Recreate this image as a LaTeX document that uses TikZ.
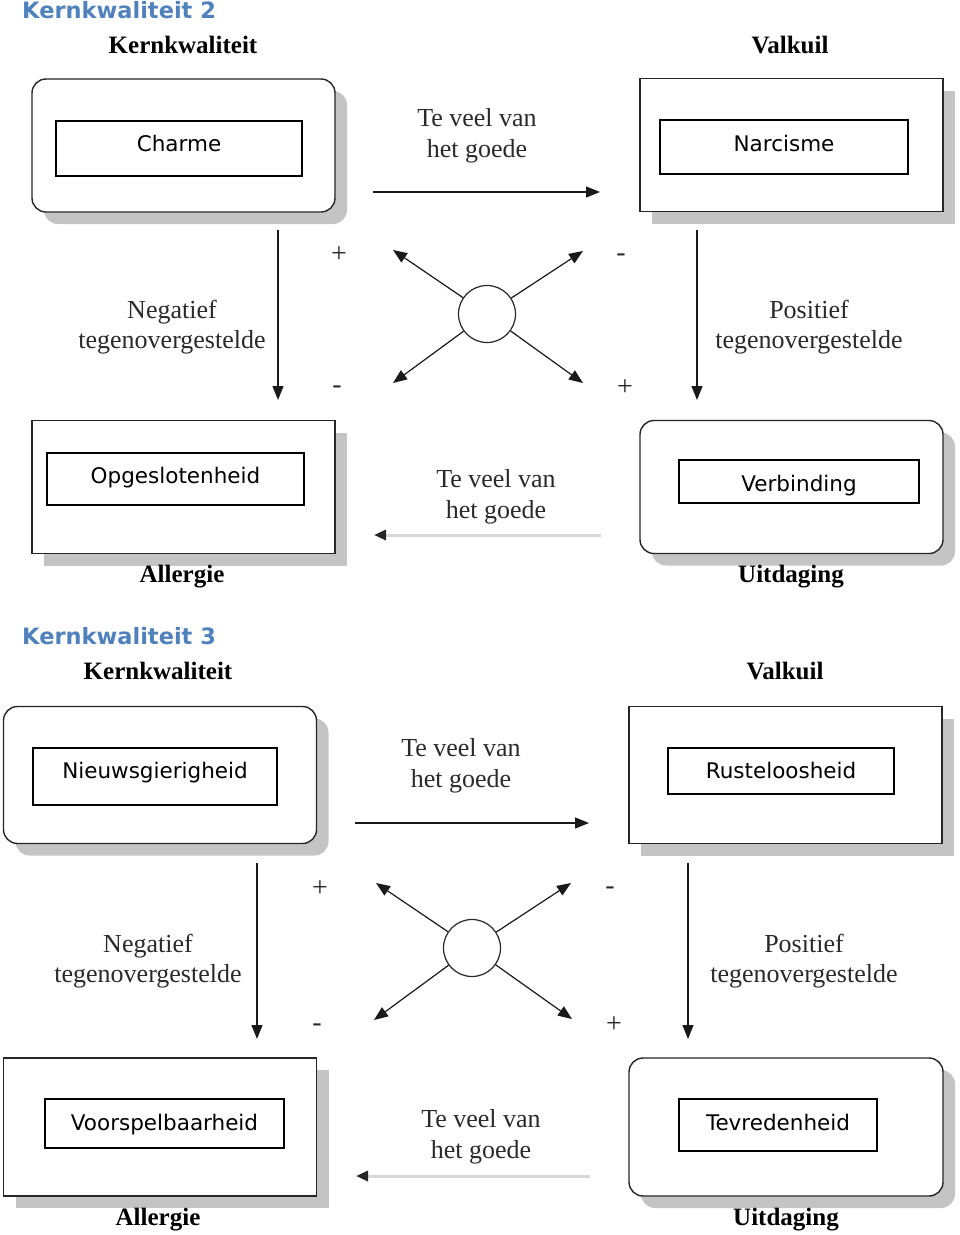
\documentclass[tikz,border=0pt]{standalone}
\usepackage{fontspec}
\setmainfont{Liberation Serif}
\newfontfamily\vsans{DejaVu Sans}
\usetikzlibrary{arrows.meta,shadows}
\definecolor{titleblue}{HTML}{4F81BD}
\definecolor{shadowgray}{HTML}{C4C4C4}
\definecolor{labelgray}{HTML}{2A2A2A}
\definecolor{backline}{HTML}{D8D8D8}
\tikzset{
  maintitle/.style={font=\vsans\bfseries\fontsize{22.5}{26}\selectfont, text=titleblue, anchor=west, inner sep=0},
  header/.style={font=\bfseries\fontsize{25}{29}\selectfont, text=black, inner sep=0},
  lbl/.style={font=\fontsize{26}{30.5}\selectfont, text=labelgray, align=center, inner sep=0},
  sign/.style={font=\fontsize{28}{30}\selectfont, text=labelgray, inner sep=0},
  outerbox/.style={draw=black!85, line width=1.4pt, fill=white, minimum width=303pt, minimum height=133pt, inner sep=0,
     drop shadow={shadow xshift=12pt, shadow yshift=-12pt, fill=shadowgray, opacity=1}},
  roundbox/.style={outerbox, rounded corners=14pt},
  innerbox/.style={draw=black, line width=1.4pt, fill=white, inner sep=0, text height=15.6pt, text depth=0pt,
     font=\vsans\fontsize{21.5}{24}\selectfont},
  up/.style={text depth=#1},
  down/.style={text height=#1},
  hub/.style={circle, draw=black!85, line width=1.2pt, minimum size=57pt, inner sep=0},
  conn/.style={line width=1.2pt, draw=black!90, -{Triangle[length=14pt,width=11pt]}},
  backconn/.style={line width=3pt, draw=backline, -{Triangle[length=12pt,width=10pt,color=black!85]}},
}
\begin{document}
\begin{tikzpicture}[x=1pt,y=-1pt]
\useasboundingbox (0,0) rectangle (960,1235);

% ================= Diagram 1 =================
\node[maintitle] (t1) at (22,10.5) {Kernkwaliteit 2};
\node[header] (h1k) at (183,45) {Kernkwaliteit};
\node[header] (h1v) at (790,45) {Valkuil};

\node[roundbox] (k1) at (183.5,145.5) {};
\node[outerbox] (v1) at (791.5,145) {};
\node[outerbox] (a1) at (183.5,487) {};
\node[roundbox] (u1) at (791.5,487) {};

\node[innerbox, up=10pt, minimum width=246pt, minimum height=55pt] (ik1) at (179,148.5) {Charme};
\node[innerbox, up=7pt, minimum width=248pt, minimum height=54pt] (iv1) at (784,147) {Narcisme};
\node[innerbox, up=6pt, minimum width=257pt, minimum height=52pt] (ia1) at (175.5,479) {Opgeslotenheid};
\node[innerbox, down=20.6pt, minimum width=240pt, minimum height=43pt] (iu1) at (799,481.5) {Verbinding};

\node[header] (f1a) at (182,576.5) {Allergie};
\node[header] (f1u) at (791,576.5) {Uitdaging};

\coordinate (ta1s) at (373,192);
\coordinate (ta1e) at (600,192);
\draw[conn] (ta1s) -- (ta1e);
\node[lbl] (tl1) at (477,136) {Te veel van\\het goede};

\coordinate (ba1s) at (601,535);
\coordinate (ba1e) at (374,535);
\draw[backconn] (ba1s) -- (ba1e);
\node[lbl] (bl1) at (496,497) {Te veel van\\het goede};

\coordinate (vl1s) at (278,230);
\coordinate (vl1e) at (278,400);
\draw[conn] (vl1s) -- (vl1e);
\node[lbl] (nl1) at (172,327) {Negatief\\tegenovergestelde};

\coordinate (vr1s) at (697,230);
\coordinate (vr1e) at (697,400);
\draw[conn] (vr1s) -- (vr1e);
\node[lbl] (pl1) at (809,327) {Positief\\tegenovergestelde};

\node[hub] (c1) at (487,314) {};
\coordinate (c1ul) at (393,250);
\coordinate (c1ur) at (583,251);
\coordinate (c1ll) at (393,383);
\coordinate (c1lr) at (583,383);
\draw[conn] (c1) -- (c1ul);
\draw[conn] (c1) -- (c1ur);
\draw[conn] (c1) -- (c1ll);
\draw[conn] (c1) -- (c1lr);

\node[sign] (s1a) at (339,255) {+};
\node[sign] (s1b) at (621,258) {-};
\node[sign] (s1c) at (337,390) {-};
\node[sign] (s1d) at (625,388) {+};

% ================= Diagram 2 =================
\node[maintitle] (t2) at (22,636.5) {Kernkwaliteit 3};
\node[header] (h2k) at (158,671) {Kernkwaliteit};
\node[header] (h2v) at (785,671) {Valkuil};

\node[roundbox, minimum width=313pt, minimum height=137pt] (k2) at (160,775) {};
\node[outerbox, minimum width=313pt, minimum height=137pt] (v2) at (785.5,775) {};
\node[outerbox, minimum width=313pt, minimum height=138pt] (a2) at (160,1127) {};
\node[roundbox, minimum width=314pt, minimum height=138pt] (u2) at (786,1127) {};

\node[innerbox, up=11pt, minimum width=244pt, minimum height=57pt] (ik2) at (155,776.5) {Nieuwsgierigheid};
\node[innerbox, minimum width=226pt, minimum height=46pt] (iv2) at (781,771) {Rusteloosheid};
\node[innerbox, up=2pt, minimum width=239pt, minimum height=49pt] (ia2) at (164.5,1123.5) {Voorspelbaarheid};
\node[innerbox, up=5pt, minimum width=198pt, minimum height=52pt] (iu2) at (778,1125) {Tevredenheid};

\node[header] (f2a) at (158,1219.5) {Allergie};
\node[header] (f2u) at (786,1219.5) {Uitdaging};

\coordinate (ta2s) at (355,823);
\coordinate (ta2e) at (589,823);
\draw[conn] (ta2s) -- (ta2e);
\node[lbl] (tl2) at (461,766) {Te veel van\\het goede};

\coordinate (ba2s) at (590,1176);
\coordinate (ba2e) at (356,1176);
\draw[backconn] (ba2s) -- (ba2e);
\node[lbl] (bl2) at (481,1137) {Te veel van\\het goede};

\coordinate (vl2s) at (257,863);
\coordinate (vl2e) at (257,1039);
\draw[conn] (vl2s) -- (vl2e);
\node[lbl] (nl2) at (148,961) {Negatief\\tegenovergestelde};

\coordinate (vr2s) at (688,863);
\coordinate (vr2e) at (688,1039);
\draw[conn] (vr2s) -- (vr2e);
\node[lbl] (pl2) at (804,961) {Positief\\tegenovergestelde};

\node[hub] (c2) at (472,948) {};
\coordinate (c2ul) at (376,883);
\coordinate (c2ur) at (571,883);
\coordinate (c2ll) at (374,1020);
\coordinate (c2lr) at (572,1019);
\draw[conn] (c2) -- (c2ul);
\draw[conn] (c2) -- (c2ur);
\draw[conn] (c2) -- (c2ll);
\draw[conn] (c2) -- (c2lr);

\node[sign] (s2a) at (320,889) {+};
\node[sign] (s2b) at (610,891) {-};
\node[sign] (s2c) at (317,1028) {-};
\node[sign] (s2d) at (614,1025) {+};
\end{tikzpicture}
\end{document}
